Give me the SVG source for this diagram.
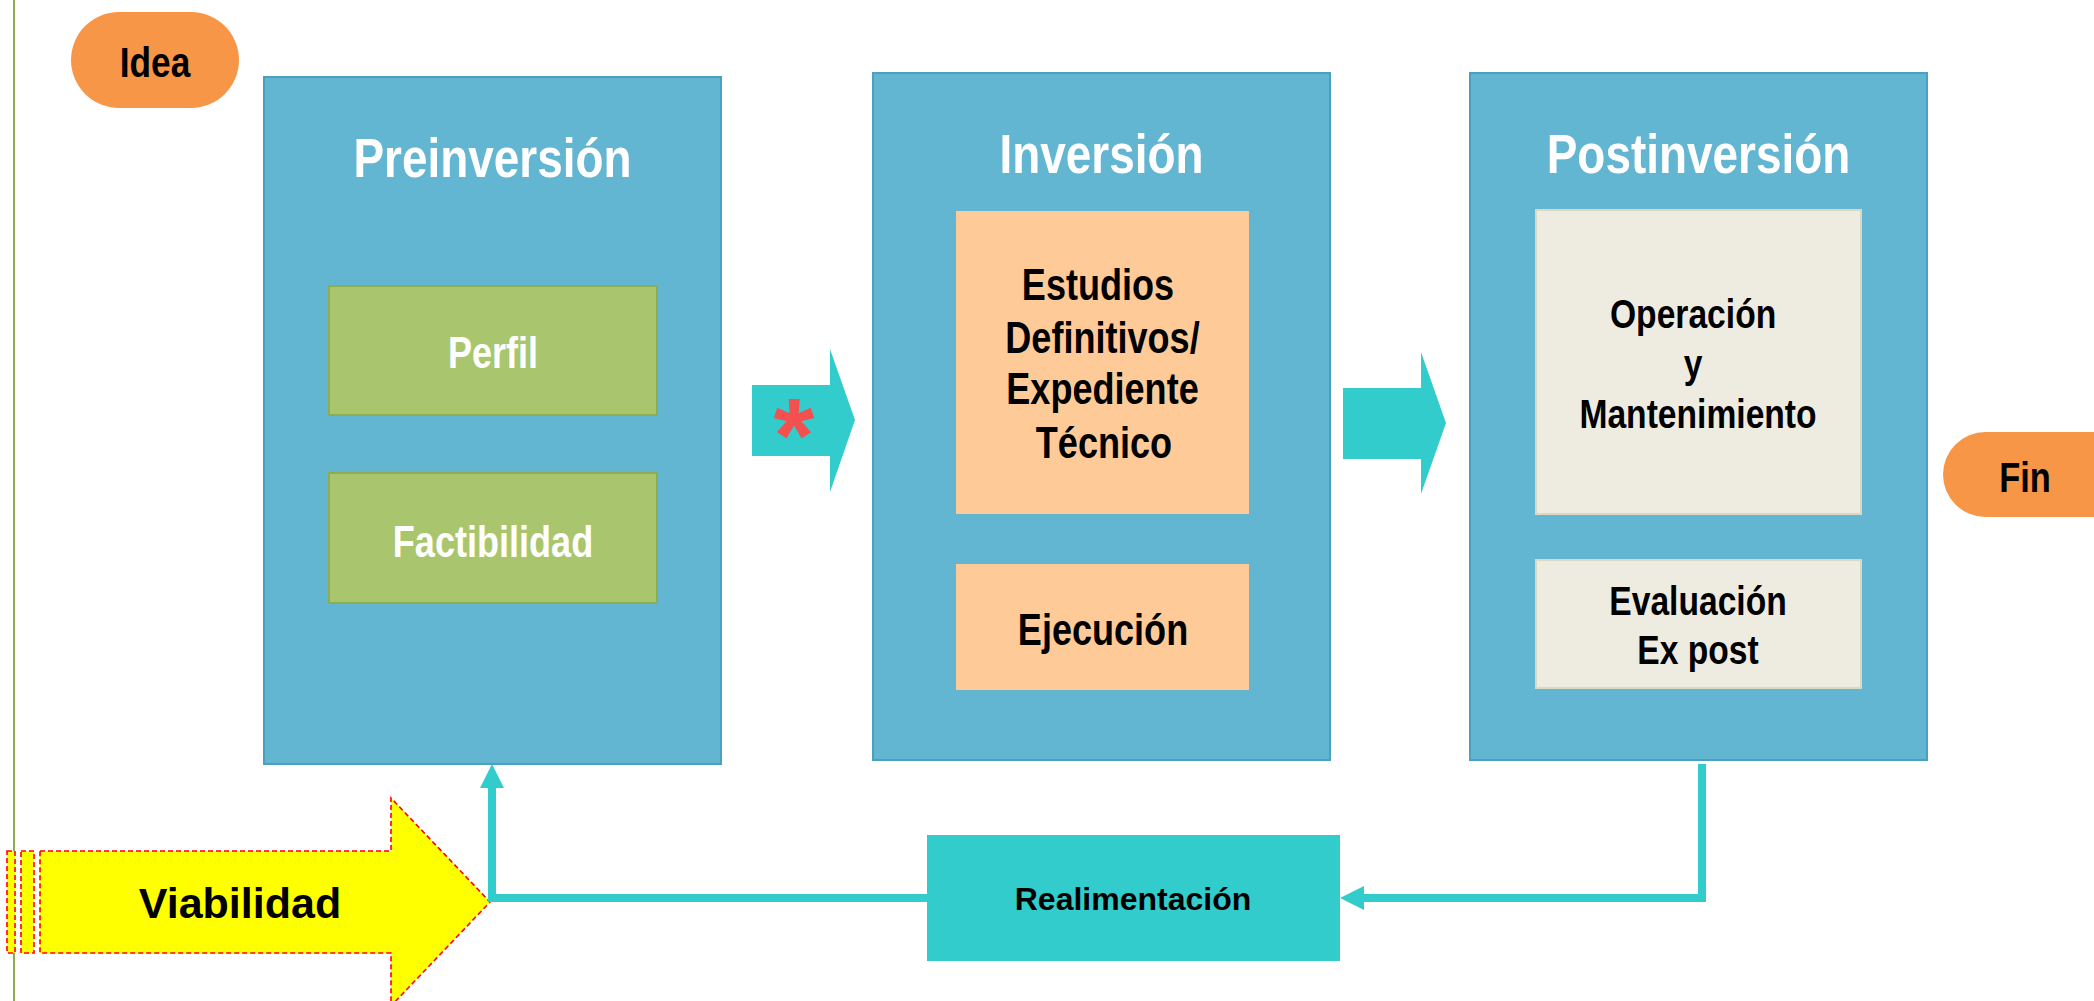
<svg xmlns="http://www.w3.org/2000/svg" width="2094" height="1001" viewBox="0 0 2094 1001">
<defs>
<style>
.stage{fill:#63b6d2;stroke:#4aa0bf;stroke-width:2}
.green{fill:#a9c66f;stroke:#8cae4f;stroke-width:2}
.peach{fill:#fecb98}
.beige{fill:#eeece1;stroke:#d9d9c6;stroke-width:2}
.pill{fill:#f79646}
.n{font-family:"Liberation Sans",Arial,sans-serif;font-weight:bold;text-anchor:middle}
.w{fill:#ffffff}
.k{fill:#000000}
.title{font-size:56px}
.big{font-size:44px}
.mid{font-size:41px}
.flow{fill:#33cccc}
.conn{fill:none;stroke:#33cccc;stroke-width:8}
.viab{fill:#ffff00;stroke:#ff0000;stroke-width:1.6;stroke-dasharray:5 3}
</style>
<marker id="ah" markerUnits="userSpaceOnUse" markerWidth="26" markerHeight="26" refX="2" refY="12" orient="auto">
<path d="M0,0 L24,12 L0,24 z" fill="#33cccc"/>
</marker>
</defs>
<rect x="0" y="0" width="2094" height="1001" fill="#ffffff"/>
<line x1="14" y1="0" x2="14" y2="1001" stroke="#8faa4f" stroke-width="2"/>

<g id="idea">
<rect class="pill" x="71" y="12" width="168" height="96" rx="48"/>
<text class="n k" transform="translate(155 0) scale(0.82 1)" x="0" y="77" font-size="43">Idea</text>
</g>

<g id="preinversion">
<rect class="stage" x="264" y="77" width="457" height="687"/>
<text class="n w title" transform="translate(492.5 0) scale(0.82 1)" x="0" y="177">Preinversión</text>
</g>
<g id="perfil">
<rect class="green" x="329" y="286" width="328" height="129"/>
<text class="n w big" transform="translate(493 0) scale(0.82 1)" x="0" y="368">Perfil</text>
</g>
<g id="factibilidad">
<rect class="green" x="329" y="473" width="328" height="130"/>
<text class="n w big" transform="translate(493 0) scale(0.82 1)" x="0" y="557">Factibilidad</text>
</g>

<g id="inversion">
<rect class="stage" x="873" y="73" width="457" height="687"/>
<text class="n w title" transform="translate(1101.5 0) scale(0.82 1)" x="0" y="173">Inversión</text>
</g>
<g id="estudios">
<rect class="peach" x="956" y="211" width="293" height="303"/>
<text class="n k big" transform="translate(1102.5 0) scale(0.82 1)" x="0" y="300"><tspan x="-5.5" y="300">Estudios</tspan><tspan x="0" y="353">Definitivos/</tspan><tspan x="0" y="404">Expediente</tspan><tspan x="1.8" y="458">Técnico</tspan></text>
</g>
<g id="ejecucion">
<rect class="peach" x="956" y="564" width="293" height="126"/>
<text class="n k big" transform="translate(1103 0) scale(0.82 1)" x="0" y="645">Ejecución</text>
</g>

<g id="postinversion">
<rect class="stage" x="1470" y="73" width="457" height="687"/>
<text class="n w title" transform="translate(1698.5 0) scale(0.82 1)" x="0" y="173">Postinversión</text>
</g>
<g id="operacion">
<rect class="beige" x="1536" y="210" width="325" height="304"/>
<text class="n k mid" transform="translate(1698 0) scale(0.82 1)" x="0" y="328"><tspan x="-6" y="328">Operación</tspan><tspan x="-6" y="378">y</tspan><tspan x="0" y="428">Mantenimiento</tspan></text>
</g>
<g id="evaluacion">
<rect class="beige" x="1536" y="560" width="325" height="128"/>
<text class="n k mid" transform="translate(1698 0) scale(0.82 1)" x="0" y="615"><tspan x="0" y="615">Evaluación</tspan><tspan x="0" y="664">Ex post</tspan></text>
</g>

<g id="fin">
<rect class="pill" x="1943" y="432" width="200" height="85" rx="42.5"/>
<text class="n k" transform="translate(2025 0) scale(0.82 1)" x="0" y="492" font-size="42">Fin</text>
</g>

<g id="realimentacion">
<rect class="flow" x="927" y="835" width="413" height="126"/>
<text x="1133" y="910" font-family="Liberation Sans,Arial,sans-serif" font-weight="bold" font-size="32" text-anchor="middle" fill="#000">Realimentación</text>
</g>

<g id="viabilidad">
<rect class="viab" x="7" y="851" width="8" height="102"/>
<rect class="viab" x="21" y="851" width="13" height="102"/>
<polygon class="viab" points="40,851 391,851 391,798 490,902 391,1006 391,953 40,953"/>
<text x="240" y="918" font-family="Liberation Sans,Arial,sans-serif" font-weight="bold" font-size="43" text-anchor="middle" fill="#000">Viabilidad</text>
</g>

<g id="connectors">
<polygon class="flow" points="752,385 830,385 830,349 855,420 830,492 830,456 752,456"/>
<text x="794" y="472" font-family="Liberation Sans,Arial,sans-serif" font-weight="bold" font-size="105" text-anchor="middle" fill="#f55050">*</text>
<polygon class="flow" points="1343,388 1421,388 1421,352 1446,423 1421,494 1421,459 1343,459"/>
<path class="conn" d="M1702,764 V898 H1362" marker-end="url(#ah)"/>
<path class="conn" d="M927,898 H492 V786" marker-end="url(#ah)"/>
</g>
</svg>
